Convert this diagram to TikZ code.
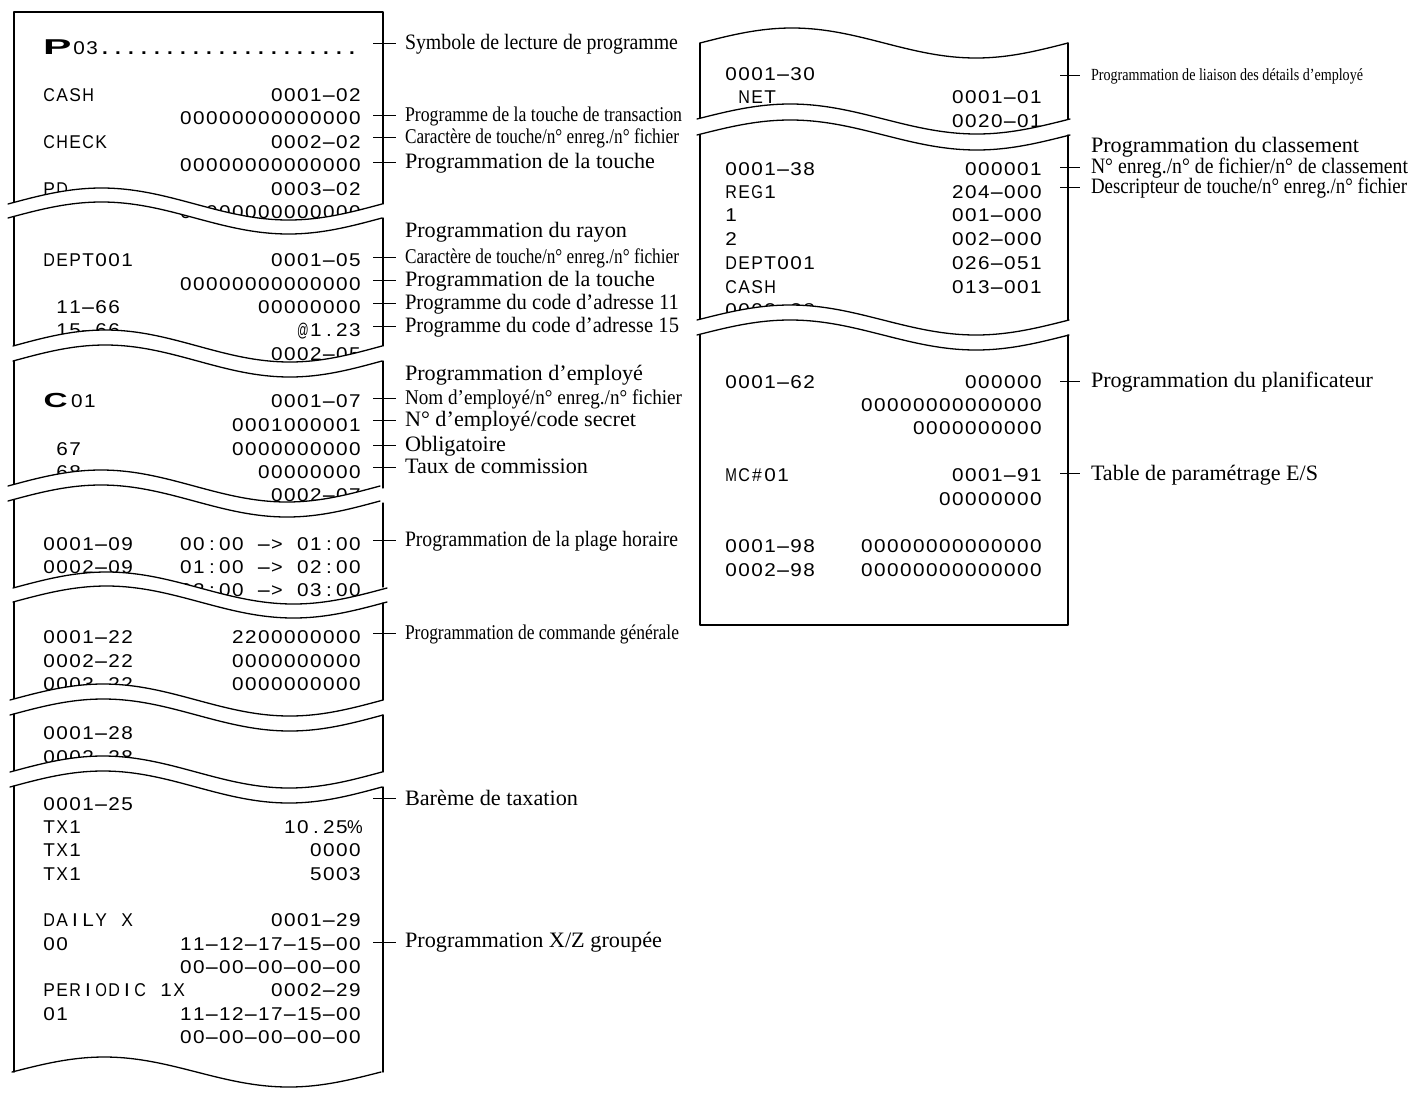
\documentclass[tikz,border=0pt]{standalone}
\usepackage{fontspec}
\usepackage{graphicx}
\setmainfont{Liberation Serif}
\newfontfamily\rcfont{Liberation Sans}
\ExplSyntaxOn
\cs_new_protected:Npn \rcch #1
  {
    \str_if_eq:nnTF {#1} {-}
      { \makebox[13pt][c]{ \scalebox{2.6}[1]{-} } }
      {
        \hbox_set:Nn \l_tmpa_box {#1}
        \dim_compare:nNnTF { \box_wd:N \l_tmpa_box } > { 1pt }
          {
            \tl_set:Nx \l_tmpa_tl
              { \fp_eval:n { min(1.12, 11.6 / \dim_to_fp:n { \box_wd:N \l_tmpa_box }) } }
            \makebox[13pt][c]{ \scalebox{\l_tmpa_tl}[1]{#1} }
          }
          { \makebox[13pt][c]{#1} }
      }
  }
\NewDocumentCommand \rc { m } { \str_map_inline:nn {#1} { \rcch {##1} } }
\ExplSyntaxOff
\newcommand\rcx[1]{\makebox[13pt][c]{\scalebox{0.95}[1]{#1}}}
\newcommand\lbl[3]{\fontsize{#1}{#1}\selectfont\resizebox{#2pt}{\height}{#3}}
\newcommand\wavepath[4]{plot[domain=#1:#2,samples=70,smooth] (\x,{#3-#4*sin(((\x-#1)/(#2-#1))*360)})}
% break: xs xe yupper ylower amplitude
\newcommand\tear[5]{%
  \fill[white] plot[domain=#1:#2,samples=70,smooth] (\x,{#3-#5*sin(((\x-#1)/(#2-#1))*360)})
     -- plot[domain=#2:#1,samples=70,smooth] (\x,{#4-#5*sin(((\x-#1)/(#2-#1))*360)}) -- cycle;
  \draw[paper] plot[domain=#1:#2,samples=70,smooth] (\x,{#3-#5*sin(((\x-#1)/(#2-#1))*360)});
  \draw[paper] plot[domain=#1:#2,samples=70,smooth] (\x,{#4-#5*sin(((\x-#1)/(#2-#1))*360)});}
\newcommand\RL[3]{\node[rtxt,anchor=base west] (#1) at (42.6,#2) {\rc{#3}};}
\newcommand\RLi[3]{\node[rtxt,anchor=base west] (#1) at (55.6,#2) {\rc{#3}};}
\newcommand\RR[3]{\node[rtxt,anchor=base east] (#1) at (361.4,#2) {\rc{#3}};}
\newcommand\SL[3]{\node[rtxt,anchor=base west] (#1) at (724.6,#2) {\rc{#3}};}
\newcommand\SR[3]{\node[rtxt,anchor=base east] (#1) at (1042.4,#2) {\rc{#3}};}
\newcommand\tickL[2]{\draw[tickl] ([shift={(-32pt,#2pt)}]#1.base west) -- ([shift={(-9pt,#2pt)}]#1.base west);}
\newcommand\tickR[2]{\draw[tickl] ([shift={(-31pt,#2pt)}]#1.base west) -- ([shift={(-11pt,#2pt)}]#1.base west);}
\tikzset{
  paper/.style={line width=1.3pt, line cap=round, line join=round},
  tickl/.style={line width=0.9pt},
  rtxt/.style={font=\rcfont\fontsize{18.5}{18.5}\selectfont, inner sep=0pt, outer sep=0pt},
  lab/.style={inner sep=0pt, outer sep=0pt, anchor=base west},
}
\begin{document}
\begin{tikzpicture}[x=1pt,y=-1pt]
\useasboundingbox (0,0) rectangle (1410,1093);
\fill[white] (0,0) rectangle (1410,1093);

% ---------- left receipt texts ----------
\node[rtxt,anchor=base west] (p) at (43,54.3) {\scalebox{2.3}[1.16]{\bfseries P}};
\node[rtxt,anchor=base west] (p03) at (72.6,54.3) {\rc{03}\bfseries\rc{....................}};
\RL{a1}{101}{CASH}        \RR{b1}{101}{0001-02}
                           \RR{b2}{124.5}{00000000000000}
\RL{a3}{148}{CHECK}       \RR{b3}{148}{0002-02}
                           \RR{b4}{171.5}{00000000000000}
\RL{a5}{195}{PD}          \RR{b5}{195}{0003-02}
                           \RR{b6}{218.5}{00000000000000}
\RL{a7}{266.7}{DEPT001}   \RR{b7}{266.7}{0001-05}
                           \RR{b8}{290}{00000000000000}
\RLi{a9}{313.3}{11-66}    \RR{b9}{313.3}{00000000}
\RLi{a10}{336.7}{15-66}   \RR{b10}{336.7}{@1.23}
                           \RR{b11}{360}{0002-05}
\node[rtxt,anchor=base west] (c) at (43.5,407.3) {\scalebox{1.8}[1.1]{\bfseries C}};
\node[rtxt,anchor=base west] (c01) at (70.3,407.3) {\rc{01}};
                           \RR{b12}{407.3}{0001-07}
                           \RR{b13}{431.7}{0001000001}
\RLi{a14}{455}{67}        \RR{b14}{455}{0000000000}
\RLi{a15}{478.3}{68}      \RR{b15}{478.3}{00000000}
                           \RR{b16}{501.7}{0002-07}
\RL{a17}{550}{0001-09}    \RR{b17}{550}{00:00 -> 01:00}
\RL{a18}{573.3}{0002-09}  \RR{b18}{573.3}{01:00 -> 02:00}
                           \RR{b19}{596.7}{02:00 -> 03:00}
\RL{a20}{643.3}{0001-22}  \RR{b20}{643.3}{2200000000}
\RL{a21}{667}{0002-22}    \RR{b21}{667}{0000000000}
\RL{a22}{690.7}{0003-22}  \RR{b22}{690.7}{0000000000}
\RL{a23}{739.3}{0001-28}
\RL{a24}{763}{0002-28}
\RL{a25}{810}{0001-25}
\RL{a26}{833.3}{TX1}
\node[rtxt,anchor=base east] (b26) at (361.4,833.3) {\rc{10.25}\rcx{\%}};
\RL{a27}{856.7}{TX1}      \RR{b27}{856.7}{0000}
\RL{a28}{880}{TX1}        \RR{b28}{880}{5003}
\RL{a29}{926.7}{DAILY X}  \RR{b29}{926.7}{0001-29}
\RL{a30}{950}{00}         \RR{b30}{950}{11-12-17-15-00}
                           \RR{b31}{973.3}{00-00-00-00-00}
\RL{a32}{996.7}{PERIODIC 1X} \RR{b32}{996.7}{0002-29}
\RL{a33}{1020}{01}        \RR{b33}{1020}{11-12-17-15-00}
                           \RR{b34}{1043.3}{00-00-00-00-00}

% ---------- right receipt texts ----------
\SL{s1}{80}{0001-30}
\node[rtxt,anchor=base west] (s2) at (737.6,103.5) {\rc{NET}};
\SR{t2}{103.5}{0001-01}
\SR{t3}{127.7}{0020-01}
\SL{s4}{175}{0001-38}     \SR{t4}{175}{000001}
\SL{s5}{198.3}{REG1}      \SR{t5}{198.3}{204-000}
\SL{s6}{221.7}{1}         \SR{t6}{221.7}{001-000}
\SL{s7}{245}{2}           \SR{t7}{245}{002-000}
\SL{s8}{269.3}{DEPT001}   \SR{t8}{269.3}{026-051}
\SL{s9}{293.3}{CASH}      \SR{t9}{293.3}{013-001}
\SL{s10}{316.5}{0002-38}
\SL{s11}{388.3}{0001-62}  \SR{t11}{388.3}{000000}
                           \SR{t12}{411.7}{00000000000000}
                           \SR{t13}{434}{0000000000}
\node[rtxt,anchor=base west] (s14) at (724.6,481.7) {\rc{MC}\rcx{\#}\rc{01}};
\SR{t14}{481.7}{0001-91}
\SR{t15}{505}{00000000}
\SL{s16}{552.7}{0001-98}  \SR{t16}{552.7}{00000000000000}
\SL{s17}{576}{0002-98}    \SR{t17}{576}{00000000000000}

% ---------- left receipt outline ----------
\draw[paper] (14,202.5) -- (14,12) -- (383,12) -- (383,204);
\tear{8}{382}{204}{218}{16}
\draw[paper] (14,216.5) -- (14,346); \draw[paper] (383,218) -- (383,346);
\tear{13}{382}{346}{361}{16}
\draw[paper] (14,361) -- (14,484.5); \draw[paper] (383,361) -- (383,488);
\tear{8}{380}{486}{501}{16}
\draw[paper] (14,499.5) -- (14,588); \draw[paper] (383,503) -- (383,587);
\tear{13}{387}{588}{602}{16}
\draw[paper] (14,602) -- (14,699.5); \draw[paper] (383,603) -- (383,700);
\tear{10}{383}{700}{715}{16}
\draw[paper] (14,714) -- (14,771); \draw[paper] (383,715) -- (383,772);
\tear{10}{382}{772}{787}{16}
\draw[paper] (14,786) -- (14,1072); \draw[paper] (383,787) -- (383,1072);
\draw[paper] \wavepath{12}{381}{1072}{15};

% ---------- right receipt outline ----------
\draw[paper] \wavepath{700}{1068}{43}{15};
\draw[paper] (700,43) -- (700,118); \draw[paper] (1068,43) -- (1068,120);
\tear{697}{1070}{119}{135}{15}
\draw[paper] (700,134.5) -- (700,320); \draw[paper] (1068,135) -- (1068,320);
\tear{697}{1069}{320}{335}{15}
\draw[paper] (700,334.5) -- (700,625) -- (1068,625) -- (1068,335);

% ---------- labels, left ----------
\node[lab] (L1) at (405,49) {\lbl{22}{273}{Symbole de lecture de programme}};
\node[lab] (L2) at (405,121) {\lbl{21}{277}{Programme de la touche de transaction}};
\node[lab] (L3) at (405,143) {\lbl{21}{274}{Caractère de touche/n° enreg./n° fichier}};
\node[lab] (L4) at (405,168) {\lbl{22}{250}{Programmation de la touche}};
\node[lab] (L5) at (405,237) {\lbl{22}{222}{Programmation du rayon}};
\node[lab] (L6) at (405,263) {\lbl{21}{274}{Caractère de touche/n° enreg./n° fichier}};
\node[lab] (L7) at (405,286) {\lbl{22}{250}{Programmation de la touche}};
\node[lab] (L8) at (405,309) {\lbl{22}{274}{Programme du code d’adresse 11}};
\node[lab] (L9) at (405,332) {\lbl{22}{274}{Programme du code d’adresse 15}};
\node[lab] (L10) at (405,380) {\lbl{22}{238}{Programmation d’employé}};
\node[lab] (L11) at (405,404) {\lbl{21}{277}{Nom d’employé/n° enreg./n° fichier}};
\node[lab] (L12) at (405,426) {\lbl{22}{231}{N° d’employé/code secret}};
\node[lab] (L13) at (405,451) {\lbl{22}{101}{Obligatoire}};
\node[lab] (L14) at (405,473) {\lbl{22}{183}{Taux de commission}};
\node[lab] (L15) at (405,546) {\lbl{22}{273}{Programmation de la plage horaire}};
\node[lab] (L16) at (405,639) {\lbl{21}{274}{Programmation de commande générale}};
\node[lab] (L17) at (405,805) {\lbl{22}{173}{Barème de taxation}};
\node[lab] (L18) at (405,947) {\lbl{22}{257}{Programmation X/Z groupée}};
\tickL{L1}{6}\tickL{L2}{6}\tickL{L3}{6}\tickL{L4}{6}\tickL{L6}{6}\tickL{L7}{6}\tickL{L8}{6}\tickL{L9}{6}
\tickL{L11}{6}\tickL{L12}{6}\tickL{L13}{6}\tickL{L14}{6}\tickL{L15}{6}\tickL{L16}{6}\tickL{L17}{7}\tickL{L18}{5}

% ---------- labels, right ----------
\node[lab] (R1) at (1091,80) {\lbl{17}{272}{Programmation de liaison des détails d’employé}};
\node[lab] (R2) at (1091,152) {\lbl{22}{268}{Programmation du classement}};
\node[lab] (R3) at (1091,173) {\lbl{22}{317}{N° enreg./n° de fichier/n° de classement}};
\node[lab] (R4) at (1091,193) {\lbl{22}{316}{Descripteur de touche/n° enreg./n° fichier}};
\node[lab] (R5) at (1091,387) {\lbl{22}{282}{Programmation du planificateur}};
\node[lab] (R6) at (1091,480) {\lbl{22}{227}{Table de paramétrage E/S}};
\tickR{R1}{5}\tickR{R3}{6}\tickR{R4}{6}\tickR{R5}{6}\tickR{R6}{7}
\end{tikzpicture}
\end{document}
